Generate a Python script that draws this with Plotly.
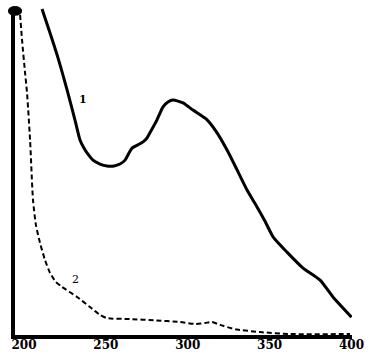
import plotly.graph_objects as go

# Curve 1 (solid)
wl1 = [211.0, 215.9, 220.8, 226.3, 231.1, 234.2, 236.6, 238.5, 242.1, 246.4, 250.7, 255.0,
       258.6, 261.7, 263.5, 266.0, 269.6, 272.7, 275.1, 276.9, 281.2, 284.9, 287.9, 291.0,
       297.1, 303.2, 311.8, 317.9, 324.0, 330.1, 336.2, 342.3, 347.2, 352.1,
       360.6, 370.4, 380.8, 388.7, 400.0]
ab1 = [1.003, 0.929, 0.852, 0.754, 0.662, 0.600, 0.575, 0.560, 0.538, 0.526, 0.520, 0.520,
       0.526, 0.538, 0.554, 0.575, 0.585, 0.594, 0.606, 0.622, 0.662, 0.702, 0.717, 0.723,
       0.714, 0.692, 0.662, 0.622, 0.569, 0.508, 0.446, 0.394, 0.350, 0.302,
       0.255, 0.206, 0.169, 0.117, 0.055]

# Curve 2 (dashed)
wl2 = [197.6, 198.8, 200.6, 201.8, 203.7, 205.5, 207.3, 209.8, 212.8, 215.9, 219.5, 223.2,
       232.4, 240.3, 246.4, 250.7, 264.7, 280.0, 295.3, 304.4, 310.5, 314.8, 319.7, 328.9,
       344.1, 362.4, 399.1]
ab2 = [0.985, 0.908, 0.809, 0.748, 0.600, 0.415, 0.338, 0.283, 0.231, 0.191, 0.163, 0.148,
       0.117, 0.086, 0.062, 0.052, 0.049, 0.045, 0.040, 0.034, 0.037, 0.040, 0.031, 0.018,
       0.009, 0.003, 0.003]

tick_vals = [200, 250, 300, 350, 400]
tick_text = ["200", "250", "300", "350", "400"]

fig = go.Figure()
fig.add_trace(go.Scatter(x=wl1, y=ab1, mode="lines",
                         line=dict(color="black", width=3, shape="spline", smoothing=0.6),
                         showlegend=False))
fig.add_trace(go.Scatter(x=wl2, y=ab2, mode="lines",
                         line=dict(color="black", width=2, dash="5px,3px", shape="spline", smoothing=0.6),
                         showlegend=False))

fig.add_annotation(x=236, y=0.723, text="<b>1</b>", showarrow=False,
                   font=dict(family="DejaVu Serif", size=11, color="black"))
fig.add_annotation(x=231.7, y=0.172, text="2", showarrow=False,
                   font=dict(family="DejaVu Serif", size=11, color="black"))

fig.add_shape(type="circle", xref="paper", yref="paper", x0=-0.021, x1=0.021, y0=0.976, y1=1.006,
              fillcolor="black", line=dict(color="black", width=0))

fig.update_layout(
    width=370, height=357,
    margin=dict(l=15, r=18, t=8, b=22),
    paper_bgcolor="white", plot_bgcolor="white",
    xaxis=dict(range=[194.5, 400.3], tickvals=tick_vals, ticktext=tick_text,
               showgrid=False, zeroline=False, showline=True, linecolor="black", linewidth=4,
               ticks="", automargin=False, ticklabelstandoff=-4,
               tickfont=dict(family="DejaVu Serif", size=12, color="black", weight="bold")),
    yaxis=dict(range=[0, 1.006], showgrid=False, zeroline=False, showline=True, automargin=False,
               linecolor="black", linewidth=4, showticklabels=False, ticks=""),
)

fig.write_html("out.html", config={"displayModeBar": False},
               post_script="document.body.style.margin='0';document.body.style.padding='0';document.body.style.overflow='hidden';")
